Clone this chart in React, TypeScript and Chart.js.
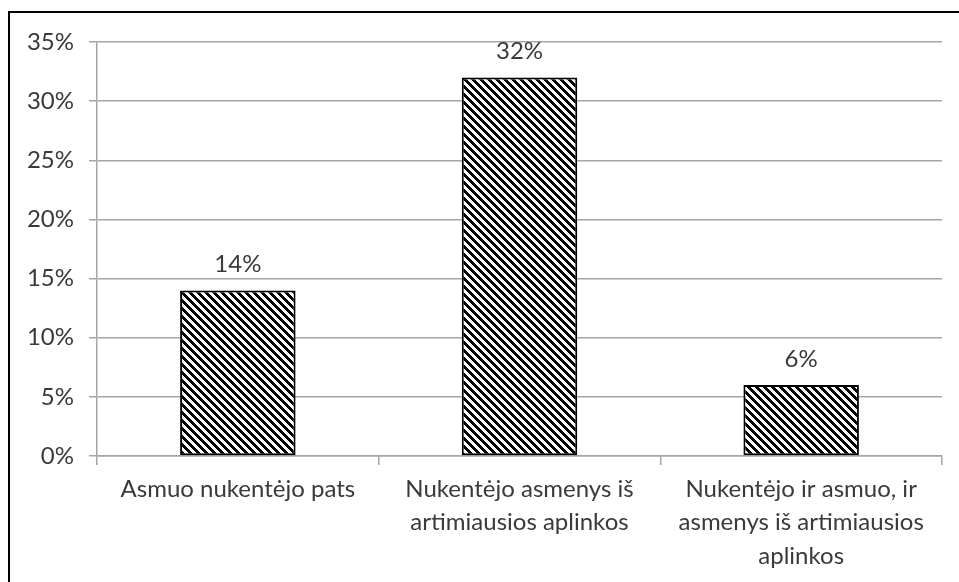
import React, { useEffect, useRef } from "react";
import { Chart, registerables } from "chart.js";

Chart.register(...registerables);

const categories: (string | string[])[] = [
  "Asmuo nukentėjo pats",
  ["Nukentėjo asmenys iš", "artimiausios aplinkos"],
  ["Nukentėjo ir asmuo, ir", "asmenys iš artimiausios", "aplinkos"],
];
const values: number[] = [14, 32, 6];
const yTicks: number[] = [0, 5, 10, 15, 20, 25, 30, 35];

const FONT = "Lato";
const TEXT = "#3a3a3a";
const GRID = "#a6a6a6";

function makePattern(): CanvasPattern | string {
  const c = document.createElement("canvas");
  c.width = 8;
  c.height = 8;
  const g = c.getContext("2d");
  if (!g) return "#000";
  const img = g.createImageData(8, 8);
  for (let y = 0; y < 8; y++) {
    for (let x = 0; x < 8; x++) {
      const on = (((x - y) % 8) + 8) % 8 < 4;
      const i = (y * 8 + x) * 4;
      const v = on ? 0 : 255;
      img.data[i] = v;
      img.data[i + 1] = v;
      img.data[i + 2] = v;
      img.data[i + 3] = 255;
    }
  }
  g.putImageData(img, 0, 0);
  const p = g.createPattern(c, "repeat");
  return p || "#000";
}

const valueLabels = {
  id: "valueLabels",
  afterDatasetsDraw(chart: any) {
    const ctx = chart.ctx;
    const meta = chart.getDatasetMeta(0);
    ctx.save();
    ctx.font = `24px ${FONT}`;
    ctx.fillStyle = TEXT;
    ctx.textAlign = "center";
    ctx.textBaseline = "middle";
    meta.data.forEach((el: any, i: number) => {
      ctx.fillText(values[i] + "%", el.x, el.y - 26);
    });
    ctx.restore();
  },
};

export default function App() {
  const ref = useRef<HTMLCanvasElement | null>(null);
  useEffect(() => {
    if (!ref.current) return;
    const chart = new Chart(ref.current, {
      type: "bar",
      data: {
        labels: categories,
        datasets: [
          {
            data: values,
            backgroundColor: makePattern() as any,
            borderColor: "#000",
            borderWidth: 2,
            borderSkipped: false,
            barPercentage: 0.41,
            categoryPercentage: 1,
          },
        ],
      },
      options: {
        responsive: false,
        animation: false,
        layout: { padding: { left: 0, right: 17, top: 42, bottom: 0 } },
        plugins: { legend: { display: false }, tooltip: { enabled: false } },
        scales: {
          x: {
            grid: {
              offset: true,
              drawOnChartArea: false,
              drawTicks: true,
              tickLength: 9,
              color: GRID,
              lineWidth: 1.5,
            },
            border: { color: GRID, width: 1.5 },
            ticks: {
              color: TEXT,
              font: { family: FONT, size: 24, lineHeight: 1.4 },
              padding: 7,
              maxRotation: 0,
              autoSkip: false,
            },
            afterFit(scale: any) {
              scale.height = 126;
            },
          },
          y: {
            min: 0,
            max: 35,
            afterBuildTicks(scale: any) {
              scale.ticks = yTicks.map((v) => ({ value: v }));
            },
            grid: {
              color: GRID,
              lineWidth: 1.5,
              drawTicks: true,
              tickLength: 8,
            },
            border: { color: GRID, width: 1.5 },
            ticks: {
              color: TEXT,
              font: { family: FONT, size: 24 },
              padding: 15,
              callback: (v: any) => v + "%",
            },
            afterFit(scale: any) {
              scale.width = 97;
            },
          },
        },
      },
      plugins: [valueLabels],
    });
    return () => chart.destroy();
  }, []);
  return (
    <div
      style={{
        position: "fixed",
        left: 0,
        top: 0,
        width: 959,
        height: 582,
        overflow: "hidden",
        background: "#fff",
      }}
    >
      <canvas
        ref={ref}
        width={959}
        height={582}
        style={{ position: "absolute", left: 0, top: 0, width: 959, height: 582 }}
      />
      <div
        style={{
          position: "absolute",
          left: 8,
          top: 11,
          width: 1100,
          height: 1100,
          border: "2px solid #000",
          pointerEvents: "none",
        }}
      />
    </div>
  );
}
